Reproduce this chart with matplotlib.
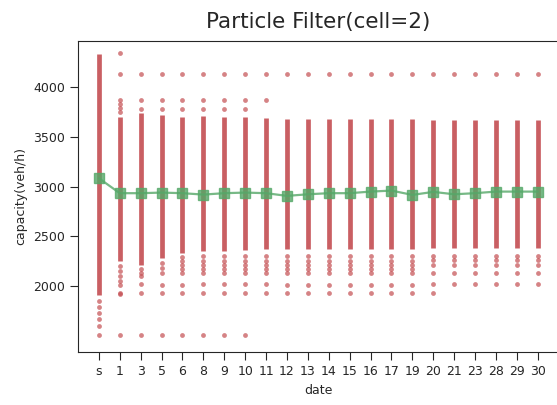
import numpy as np
import matplotlib
matplotlib.use("Agg")
import matplotlib.pyplot as plt
import seaborn as sns

sns.set_style("ticks")

# categories on the x axis
dates = ["s", "1", "3", "5", "6", "8", "9", "10", "11", "12", "13", "14",
         "15", "16", "17", "19", "20", "21", "23", "28", "29", "30"]

# dense part of each particle column (top / bottom), veh/h
band_hi = [4330, 3700, 3740, 3720, 3700, 3710, 3700, 3700, 3690, 3680, 3680,
           3680, 3680, 3680, 3680, 3680, 3670, 3670, 3670, 3670, 3670, 3670]
band_lo = [1910, 2250, 2210, 2280, 2330, 2350, 2350, 2360, 2370, 2370, 2370,
           2370, 2370, 2370, 2370, 2370, 2380, 2380, 2380, 2380, 2380, 2380]

# isolated particles in each column
dots = [
    [1850, 1790, 1730, 1670, 1600, 1510],
    [4340, 4130, 3870, 3830, 3790, 3750, 2200, 2150, 2100, 2050, 2010, 1930, 1920, 1510],
    [4130, 3870, 3780, 2170, 2130, 2100, 2020, 1930, 1510],
    [4130, 3870, 3780, 2230, 2180, 2130, 2013, 1930, 1510],
    [4130, 3870, 3780, 2290, 2250, 2210, 2170, 2130, 2013, 1930, 1510],
    [4130, 3870, 3780, 2300, 2250, 2210, 2170, 2130, 2020, 1936, 1510],
    [4130, 3870, 3780, 2300, 2250, 2210, 2170, 2130, 2020, 1936, 1510],
    [4130, 3870, 3780, 2300, 2250, 2210, 2170, 2130, 2020, 1936, 1510],
    [4130, 3870, 2300, 2250, 2210, 2170, 2130, 2020, 1936],
    [4130, 2300, 2250, 2210, 2170, 2130, 2013, 1930],
    [4130, 2300, 2250, 2210, 2170, 2130, 2013, 1930],
    [4130, 2300, 2250, 2210, 2170, 2130, 2013, 1930],
    [4130, 2300, 2250, 2210, 2170, 2130, 2013, 1930],
    [4130, 2300, 2250, 2210, 2170, 2130, 2013, 1930],
    [4130, 2300, 2250, 2210, 2170, 2130, 2013, 1930],
    [4130, 2300, 2250, 2210, 2170, 2130, 2013, 1930],
    [4130, 2305, 2260, 2214, 2137, 2023, 1930],
    [4130, 2305, 2260, 2214, 2137, 2023],
    [4130, 2305, 2260, 2214, 2137, 2023],
    [4130, 2305, 2260, 2214, 2137, 2023],
    [4130, 2305, 2260, 2214, 2137, 2023],
    [4130, 2305, 2260, 2214, 2137, 2023],
]

# filtered estimate (green line)
mean_cap = [3084, 2934, 2934, 2940, 2934, 2920, 2934, 2940, 2934, 2907, 2923,
            2934, 2934, 2950, 2960, 2917, 2947, 2923, 2934, 2950, 2950, 2950]

red = "#C44E52"
green = "#55A868"

fig = plt.figure(figsize=(5.57, 4.05), dpi=100)
ax = fig.add_axes([0.140, 0.131, 0.863, 0.768])

x = np.arange(len(dates))
ax.vlines(x, band_lo, band_hi, color=red, lw=3.4, alpha=0.9, zorder=2)
for i, d in enumerate(dots):
    ax.scatter([i] * len(d), d, s=12, color=red, alpha=0.7, lw=0, zorder=2)

ax.plot(x, mean_cap, color=green, lw=1.6, alpha=0.8, marker="s",
        markersize=7, zorder=3)

ax.set_xlim(-1, 22)
ax.set_ylim(1340, 4463)
ax.set_yticks([2000, 2500, 3000, 3500, 4000])
ax.set_xticks(x)
ax.set_xticklabels(dates)
ax.tick_params(labelsize=9, length=6)
ax.set_xlabel("date", fontsize=9)
ax.set_ylabel("capacity(veh/h)", fontsize=9)
ax.set_title("Particle Filter(cell=2)", fontsize=15.5, pad=9)
for sp in ax.spines.values():
    sp.set_visible(True)

fig.savefig("out.png", dpi=100)
